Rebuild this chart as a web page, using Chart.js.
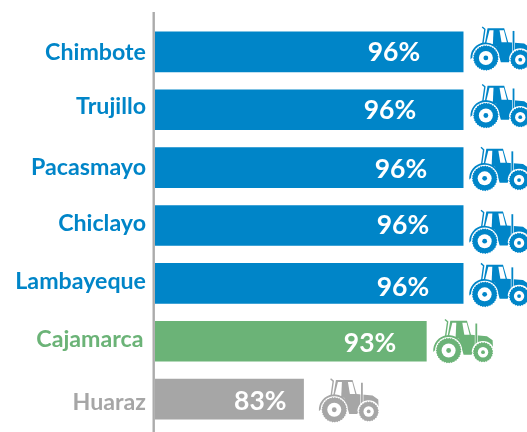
<!DOCTYPE html>
<html><head><meta charset="utf-8">
<style>html,body{margin:0;padding:0;background:#fff;overflow:hidden}canvas{display:block}</style>
<script src="https://cdn.jsdelivr.net/npm/chart.js@4"></script>
</head><body><canvas id="c" width="527" height="432"></canvas>
<script>
const categories = ['Chimbote','Trujillo','Pacasmayo','Chiclayo','Lambayeque','Cajamarca','Huaraz'];
const values = [96,96,96,96,96,93,83];
const valueLabels = ['96%','96%','96%','96%','96%','93%','83%'];
const BLUE='#0085C8', GREEN='#6BB377', GRAY='#A6A6A6';
const barColors = [BLUE,BLUE,BLUE,BLUE,BLUE,GREEN,GRAY];
// hand placement seen in the reference
const tickDy = [1,-3,0,-2,-2,-2,3];
const tickDx = [0,0,0,0,0,-2.5,0];
const labelRightGap = [43,47,36,34,34,30,17];
const labelDy = [1,1,2,0,4,2,2];
const tractorDx = [22.7,22.7,21.5,21.5,21.5,22.3,30.7];
const tractorDy = [6,5.7,10.7,15.7,11,9.3,10.7];

function poly(ctx, pts, color){
  ctx.fillStyle=color; ctx.beginPath();
  pts.forEach((p,i)=> i?ctx.lineTo((p[0]-73)/3,(p[1]-115)/3):ctx.moveTo((p[0]-73)/3,(p[1]-115)/3));
  ctx.closePath(); ctx.fill();
}
function wheel(ctx,x,y,r,hub,dot,color){
  ctx.fillStyle=color;
  const n=Math.round(r*2.4);
  ctx.beginPath();
  for(let i=0;i<n*2;i++){
    const a=i*Math.PI/n, R=i%2?r:r-0.9;
    ctx.lineTo(x+R*Math.cos(a),y+R*Math.sin(a));
  }
  ctx.closePath();ctx.fill();
  ctx.fillStyle='#fff';ctx.beginPath();ctx.arc(x,y,hub,0,7);ctx.fill();
  ctx.fillStyle=color;ctx.beginPath();ctx.arc(x,y,dot,0,7);ctx.fill();
}
function tractor(ctx,x,y,color){
  ctx.save();ctx.translate(x,y);
  // cab and hood
  poly(ctx,[[78,26],[128,26],[140,68],[188,72],[205,84],[206,106],[150,106],[142,128],[118,128],[104,80],[70,72]],color);
  // windows
  poly(ctx,[[84,32],[96,32],[94,74],[74,72]],'#fff');
  poly(ctx,[[114,32],[127,32],[136,68],[120,68]],'#fff');
  // mirror post and exhaust
  ctx.strokeStyle=color;ctx.lineWidth=1.4;
  ctx.beginPath();ctx.moveTo((62-73)/3,(22-115)/3);ctx.lineTo((70-73)/3,(29-115)/3);ctx.lineTo((64-73)/3,(72-115)/3);ctx.stroke();
  ctx.strokeStyle='#fff';ctx.lineWidth=3;
  ctx.beginPath();ctx.moveTo((156-73)/3,(48-115)/3);ctx.lineTo((156-73)/3,(104-115)/3);ctx.stroke();
  ctx.strokeStyle=color;ctx.lineWidth=1.8;
  ctx.beginPath();ctx.moveTo((156-73)/3,(34-115)/3);ctx.lineTo((156-73)/3,(104-115)/3);ctx.stroke();
  // rear fender
  ctx.fillStyle=color;ctx.beginPath();ctx.arc(0,0,15.4,Math.PI*0.97,Math.PI*1.9);ctx.lineTo(15,0);ctx.lineTo(-14,0);ctx.closePath();ctx.fill();
  ctx.fillStyle='#fff';ctx.beginPath();ctx.arc(0,0,13.6,0,7);ctx.fill();
  // front fender gap
  ctx.fillStyle='#fff';ctx.beginPath();ctx.arc(34.4,1.7,11.3,Math.PI,0);ctx.fill();
  wheel(ctx,0,0,12.8,7,2.4,color);
  wheel(ctx,34.4,1.7,10.2,5.2,1.9,color);
  ctx.restore();
}
const decorations = {
  id:'decorations',
  afterLayout(chart){
    const ys=chart.scales.y;
    ys._labelItems=null;
    ys.getLabelItems(chart.chartArea).forEach((it,i)=>{
      it.options.translation=[it.options.translation[0]+tickDx[i],it.options.translation[1]+tickDy[i]];
    });
  },
  afterDatasetsDraw(chart){
    const ctx=chart.ctx, xs=chart.scales.x, ys=chart.scales.y;
    // vertical axis line running past the plot area
    ctx.save();
    ctx.strokeStyle='#ABABAB';ctx.lineWidth=2.4;
    ctx.beginPath();ctx.moveTo(xs.left-1.3,12);ctx.lineTo(xs.left-1.3,432);ctx.stroke();
    ctx.font='bold 26.5px Lato';ctx.textAlign='right';ctx.textBaseline='middle';
    values.forEach((v,i)=>{
      const end=xs.getPixelForValue(v), cy=ys.getPixelForTick(i);
      ctx.fillStyle='#fff';
      ctx.fillText(valueLabels[i],end-labelRightGap[i],cy+labelDy[i]);
      tractor(ctx,end+tractorDx[i],cy+tractorDy[i],barColors[i]);
    });
    ctx.restore();
  }
};
new Chart(document.getElementById('c'),{
  type:'bar',
  data:{labels:categories,datasets:[{data:values,backgroundColor:barColors,barThickness:40,borderWidth:0}]},
  options:{
    indexAxis:'y',responsive:false,animation:false,
    layout:{padding:{top:23,bottom:4,left:0,right:0}},
    plugins:{legend:{display:false},tooltip:{enabled:false}},
    scales:{
      x:{display:false,min:70.9,max:101.2},
      y:{
        afterFit(s){s.width=155;s.paddingTop=0;s.paddingBottom=0;},
        grid:{display:false,drawTicks:false},border:{display:false},
        ticks:{padding:9,autoSkip:false,color:c=>barColors[c.index],font:{family:'Lato',size:23.2,weight:'bold'}}
      }
    }
  },
  plugins:[decorations]
});
</script></body></html>
